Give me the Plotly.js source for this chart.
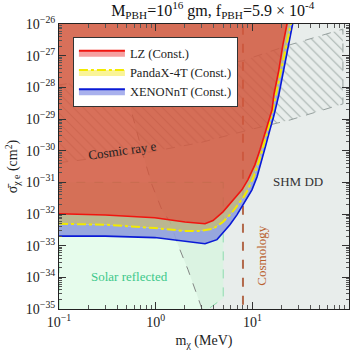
<!DOCTYPE html>
<html>
<head>
<meta charset="utf-8">
<script src="https://cdn.plot.ly/plotly-3.0.1.min.js"></script>
<style>
  html, body { margin: 0; padding: 0; background: #fff; }
  #graph { width: 354px; height: 354px; }
</style>
</head>
<body>
<div id="graph"></div>
<script>
// ---------- DATA ----------
// LZ (Const.)
const lzX = [0.1, 0.30, 0.98, 2.01, 3.24, 3.92, 4.97, 6.30, 7.80, 8.99, 10.6, 12.0, 12.9, 14.5, 16.0, 16.7, 18.8, 20.7, 23.3];
const lzY = [1.02e-32, 9.3e-33, 7.6e-33, 5.6e-33, 4.9e-33, 6.2e-33, 1.17e-32, 2.8e-32, 5.8e-32, 1.2e-31, 3.5e-31, 1.07e-30, 2.2e-30, 7.6e-30, 1.95e-29, 5.8e-29, 3.5e-28, 2.2e-27, 1.35e-26];

// PandaX-4T (Const.)
const pxX = [0.1, 0.30, 0.98, 2.01, 2.87, 3.92, 4.97, 6.15, 7.10, 8.00, 9.00, 10.4, 11.7, 12.9, 14.2, 15.6, 17.1, 19.3, 21.7, 25.1, 25.9];
const pxY = [4.9e-33, 4.6e-33, 3.6e-33, 2.9e-33, 2.9e-33, 3.4e-33, 5.6e-33, 1.1e-32, 1.95e-32, 3.2e-32, 5.8e-32, 1.6e-31, 4.5e-31, 1.23e-30, 3.6e-30, 1.07e-29, 4.0e-29, 2.0e-28, 1.05e-27, 1.0e-26, 1.6e-26];

// XENONnT (Const.)
const xnX = [0.1, 0.30, 0.98, 2.01, 3.24, 4.31, 4.97, 5.86, 6.93, 8.00, 8.79, 9.91, 11.2, 12.6, 13.8, 15.2, 16.7, 18.8, 20.7, 23.3, 26.3, 26.9];
const xnY = [2.0e-33, 2.0e-33, 1.8e-33, 1.4e-33, 1.15e-33, 1.55e-33, 2.6e-33, 4.6e-33, 9.4e-33, 1.95e-32, 3.0e-32, 5.8e-32, 1.5e-31, 5.1e-31, 1.5e-30, 4.6e-30, 1.26e-29, 5.8e-29, 2.5e-28, 1.5e-27, 1.0e-26, 1.6e-26];

// SHM direct detection boundary (gray dashed)
const shmX = [3.01, 2.16, 1.70, 1.41, 1.16, 0.916, 0.740, 0.625, 0.556, 0.542];
const shmY = [1.02e-35, 1.74e-34, 1.07e-33, 5.6e-33, 1.35e-32, 8.3e-32, 7.4e-31, 4.6e-30, 1.95e-29, 1.2e-28];

// Solar reflected region (green dashed)
const solarX = [0.1, 0.1, 5.0, 5.0, 3.5];
const solarY = [1e-35, 1e-31, 1e-31, 2.2e-35, 1e-35];

// Cosmic ray e region (hatched)
const crLowX = [0.1, 0.873, 2.87, 9.44, 24.5, 86.5];
const crLowY = [4.2e-31, 9.1e-31, 1.78e-30, 4.6e-30, 9.3e-30, 3.0e-29];
const crUpX = [86.5, 24.5, 7.8, 0.1];
const crUpY = [6.9e-27, 2.2e-27, 6.8e-28, 1.2e-28];

// Cosmology bound
const cosmoMass = 8.0;

// axes
const xTickVals = [0.1, 1, 10, 100];
const xTickText = ["10<sup>−1</sup>", "10<sup>0</sup>", "10<sup>1</sup>", "10<sup>2</sup>"];
const yExps = [-35, -34, -33, -32, -31, -30, -29, -28, -27, -26];

// ---------- HELPERS ----------
const serif = "Liberation Serif, DejaVu Serif, serif";
const TOP = 1e-25, LEFT = 0.05, RIGHT = 200, BOTTOM = 1e-36;

function minorTicks(lo, hi) {
  let out = [];
  for (let e = lo; e < hi; e++)
    for (let m = 2; m <= 9; m++) out.push(m * Math.pow(10, e));
  return out;
}

let traces = [];

// SHM DD (light gray)
traces.push({
  x: shmX.concat([shmX[shmX.length - 1], RIGHT, RIGHT]),
  y: shmY.concat([TOP, TOP, BOTTOM]),
  fill: "toself", fillcolor: "rgba(200,212,207,0.42)",
  mode: "none", hoverinfo: "skip", showlegend: false
});

// Solar reflected (light green)
traces.push({
  x: solarX, y: solarY,
  fill: "toself", fillcolor: "rgba(205,250,218,0.5)",
  mode: "lines", line: {color: "rgba(120,215,160,0.8)", width: 1, dash: "dash"},
  hoverinfo: "skip", showlegend: false
});

// SHM dashed boundary
traces.push({
  x: shmX, y: shmY, mode: "lines",
  line: {color: "rgb(120,120,120)", width: 0.9, dash: "dash"},
  hoverinfo: "skip", showlegend: false
});

// Cosmic ray e (hatched)
traces.push({
  x: crLowX.concat(crUpX, [crLowX[0]]),
  y: crLowY.concat(crUpY, [crLowY[0]]),
  fill: "toself", fillcolor: "rgba(0,0,0,0)",
  fillpattern: {shape: "\\", fgcolor: "rgba(120,135,130,0.6)", bgcolor: "rgba(0,0,0,0)", size: 7, solidity: 0.15},
  mode: "lines", line: {color: "rgb(150,160,158)", width: 1, dash: "dash"},
  hoverinfo: "skip", showlegend: false
});

// Cosmology line
traces.push({
  x: [cosmoMass, cosmoMass], y: [BOTTOM, TOP], mode: "lines",
  line: {color: "rgb(178,105,75)", width: 2, dash: "dash"},
  hoverinfo: "skip", showlegend: false
});

// bands between the curves
traces.push({
  x: [LEFT].concat(lzX, pxX.slice().reverse(), [LEFT]),
  y: [lzY[0]].concat(lzY, pxY.slice().reverse(), [pxY[0]]),
  fill: "toself", fillcolor: "rgba(183,177,137,0.93)",
  mode: "none", hoverinfo: "skip", showlegend: false
});
traces.push({
  x: [LEFT].concat(pxX, xnX.slice().reverse(), [LEFT]),
  y: [pxY[0]].concat(pxY, xnY.slice().reverse(), [xnY[0]]),
  fill: "toself", fillcolor: "rgba(145,160,221,0.93)",
  mode: "none", hoverinfo: "skip", showlegend: false
});

// LZ excluded region
traces.push({
  x: [LEFT].concat(lzX, [lzX[lzX.length - 1], LEFT]),
  y: [lzY[0]].concat(lzY, [TOP, TOP]),
  fill: "toself", fillcolor: "rgba(209,87,61,0.85)",
  mode: "none", hoverinfo: "skip", showlegend: false
});

// limit curves
traces.push({x: xnX, y: xnY, mode: "lines", line: {color: "#0a1ad6", width: 1.6}, hoverinfo: "skip", showlegend: false});
traces.push({x: pxX, y: pxY, mode: "lines", line: {color: "#f2ea00", width: 2, dash: "dashdot"}, hoverinfo: "skip", showlegend: false});
traces.push({x: lzX, y: lzY, mode: "lines", line: {color: "#f0150f", width: 1.6}, hoverinfo: "skip", showlegend: false});

// legend entries
const legNames = ["LZ (Const.)", "PandaX-4T (Const.)", "XENONnT (Const.)"];
const legFill = ["rgba(245,150,150,0.9)", "rgba(250,243,140,0.9)", "rgba(160,168,235,0.9)"];
const legLine = ["#f0150f", "#f2ea00", "#0a1ad6"];
const legDash = ["solid", "dashdot", "solid"];
legNames.forEach((n, i) => {
  traces.push({
    x: [null], y: [null], name: n, fill: "toself", fillcolor: legFill[i],
    mode: "lines", line: {color: legLine[i], width: 2, dash: legDash[i]}
  });
});

// ---------- LAYOUT ----------
const axisCommon = {
  type: "log", showgrid: false, zeroline: false,
  showline: true, linecolor: "#222", linewidth: 1, mirror: "allticks",
  ticks: "inside", ticklen: 7, tickwidth: 1, tickcolor: "#333",
  tickfont: {family: serif, size: 14, color: "#222"}
};

const layout = {
  width: 354, height: 354,
  margin: {l: 59, r: 5, t: 24, b: 45},
  paper_bgcolor: "#fff", plot_bgcolor: "#fff",
  title: {
    text: "M<sub>PBH</sub>=10<sup>16</sup> gm, f<sub>PBH</sub>=5.9 × 10<sup>-4</sup>",
    font: {family: serif, size: 16, color: "#111"},
    xref: "paper", x: 0.53, xanchor: "center",
    yref: "container", y: 0.972, yanchor: "middle"
  },
  xaxis: Object.assign({}, axisCommon, {
    range: [-1, 2], tickmode: "array", tickvals: xTickVals, ticktext: xTickText,
    minor: {tickmode: "array", tickvals: minorTicks(-1, 2), ticks: "inside", ticklen: 4, tickcolor: "#555", showgrid: false},
    title: {text: "m<sub>χ</sub> (MeV)", font: {family: serif, size: 14, color: "#222"}, standoff: 6}
  }),
  yaxis: Object.assign({}, axisCommon, {
    range: [-35, -26], tickmode: "array",
    tickvals: yExps.map(e => Math.pow(10, e)),
    ticktext: yExps.map(e => "10<sup>" + (e < 0 ? "−" + (-e) : e) + "</sup>"),
    minor: {tickmode: "array", tickvals: minorTicks(-35, -26), ticks: "inside", ticklen: 3, tickcolor: "#555", showgrid: false},
    title: {text: "σ̄<sub>χ e</sub> (cm<sup>2</sup>)", font: {family: serif, size: 14, color: "#222"}, standoff: 4}
  }),
  showlegend: true,
  legend: {
    x: 0.048, y: 0.954, xanchor: "left", yanchor: "top",
    bgcolor: "#fff", bordercolor: "#333", borderwidth: 1,
    font: {family: serif, size: 12.5, color: "#222"},
    tracegroupgap: 0, itemwidth: 46
  },
  annotations: [
    {x: -0.338, y: -30.01, text: "Cosmic ray e", showarrow: false, textangle: -8,
     font: {family: serif, size: 13, color: "#222"}},
    {x: 1.472, y: -30.98, text: "SHM DD", showarrow: false,
     font: {family: serif, size: 13, color: "#333"}},
    {x: -0.266, y: -33.98, text: "Solar reflected", showarrow: false,
     font: {family: serif, size: 13, color: "#3cc88a"}},
    {x: 1.099, y: -33.32, text: "Cosmology", showarrow: false, textangle: -90,
     font: {family: serif, size: 13, color: "#b9602e"}}
  ]
};

Plotly.newPlot("graph", traces, layout, {displayModeBar: false, staticPlot: true});
</script>
</body>
</html>
